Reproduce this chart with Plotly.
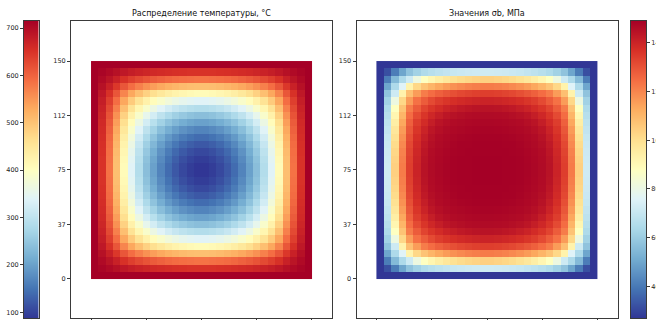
import numpy as np
import plotly.graph_objects as go

# Temperature along the mid row of the plate, from the edge to the centre (°C)
temp_half_profile = [715, 650, 585, 505, 410, 340, 285, 238, 200, 168, 142, 122, 106, 95, 88]

# Ultimate strength σb of the material as a function of temperature
table_temp = [88, 150, 250, 290, 340, 410, 505, 585, 630, 650, 672, 688, 700, 708, 715]
table_sigma = [149, 148.5, 146, 144, 140, 134, 122, 104, 86, 72, 64, 55, 43, 32, 27]

plate_size = 150
axis_tick_vals = [0, 37.5, 75, 112.5, 150]
axis_tick_text = ["0", "37", "75", "112", "150"]
temp_bar_ticks = [100, 200, 300, 400, 500, 600, 700]
sigma_bar_ticks = [40, 60, 80, 100, 120, 140]

# Build the 2-D fields
profile = np.array(temp_half_profile + temp_half_profile[::-1], dtype=float)
n = profile.size
t_edge, t_min = profile.max(), profile.min()
u = (t_edge - profile) / (t_edge - t_min)
temperature = t_edge - (t_edge - t_min) * np.outer(u, u)
sigma = np.interp(temperature, table_temp, table_sigma)

step = plate_size / n
centres = (np.arange(n) + 0.5) * step

W, H = 656, 320
def fx(px):
    return px / W
def fy(py):
    return 1 - py / H

y_dom = [fy(318), fy(21)]
FONT = "DejaVu Sans"
LINE = "#3a3a3a"
cscale = "RdYlBu_r"

fig = go.Figure()

# Temperature colour bar (left)
t_lo, t_hi = float(temperature.min()), float(temperature.max())
t_levels = np.linspace(t_lo, t_hi, 300)
fig.add_trace(go.Heatmap(z=t_levels[:, None], x=[0], y=t_levels, colorscale=cscale,
                         zmin=t_lo, zmax=t_hi, showscale=False, hoverinfo="skip",
                         xaxis="x", yaxis="y"))

# Temperature field
fig.add_trace(go.Heatmap(z=temperature, x=centres, y=centres, colorscale=cscale,
                         zmin=t_lo, zmax=t_hi, showscale=False,
                         xaxis="x2", yaxis="y2"))

# σb field
s_lo, s_hi = float(sigma.min()), float(sigma.max())
fig.add_trace(go.Heatmap(z=sigma, x=centres, y=centres, colorscale=cscale,
                         zmin=s_lo, zmax=s_hi, showscale=False,
                         xaxis="x3", yaxis="y3"))

# σb colour bar (right)
s_levels = np.linspace(s_lo, s_hi, 300)
fig.add_trace(go.Heatmap(z=s_levels[:, None], x=[0], y=s_levels, colorscale=cscale,
                         zmin=s_lo, zmax=s_hi, showscale=False, hoverinfo="skip",
                         xaxis="x4", yaxis="y4"))

frame = dict(showline=True, linecolor=LINE, linewidth=1, mirror=True,
             showgrid=False, zeroline=False, automargin=False)
tickstyle = dict(ticks="outside", ticklen=3, tickwidth=1, tickcolor=LINE,
                 tickfont=dict(family=FONT, size=6.5, color="#222"))

fig.update_layout(
    width=W, height=H,
    margin=dict(l=0, r=0, t=0, b=0, pad=0),
    paper_bgcolor="white", plot_bgcolor="white",
    showlegend=False,
    # left colour bar
    xaxis=dict(domain=[fx(24), fx(38.5)], showticklabels=False, ticks="",
               range=[-0.5, 0.5], **frame),
    yaxis=dict(domain=y_dom, range=[t_lo, t_hi], tickvals=temp_bar_ticks,
               side="left", anchor="x", **frame, **tickstyle),
    # temperature map (x tick labels fall below the page edge)
    xaxis2=dict(domain=[fx(71), fx(332)], range=[-13.6, 163.6], anchor="y2",
                tickvals=axis_tick_vals, showticklabels=False, **frame, **tickstyle),
    yaxis2=dict(domain=y_dom, range=[-27.1, 177.6], anchor="x2",
                tickvals=axis_tick_vals, ticktext=axis_tick_text, **frame, **tickstyle),
    # σb map
    xaxis3=dict(domain=[fx(356.5), fx(618)], range=[-13.5, 163.7], anchor="y3",
                tickvals=axis_tick_vals, showticklabels=False, **frame, **tickstyle),
    yaxis3=dict(domain=y_dom, range=[-27.1, 177.6], anchor="x3",
                tickvals=axis_tick_vals, ticktext=axis_tick_text, **frame, **tickstyle),
    # right colour bar
    xaxis4=dict(domain=[fx(631), fx(646)], showticklabels=False, ticks="",
                range=[-0.5, 0.5], anchor="y4", **frame),
    yaxis4=dict(domain=y_dom, range=[s_lo, s_hi], tickvals=sigma_bar_ticks,
                side="right", anchor="x4", **frame, **tickstyle),
    annotations=[
        dict(text="Распределение температуры, °C", xref="paper", yref="paper",
             x=fx(201.5), y=fy(14), xanchor="center", yanchor="middle", showarrow=False,
             font=dict(family=FONT, size=8, color="#111")),
        dict(text="Значения σb, МПа", xref="paper", yref="paper",
             x=fx(487), y=fy(14), xanchor="center", yanchor="middle", showarrow=False,
             font=dict(family=FONT, size=8, color="#111")),
    ],
)

fig.write_html("out.html")
